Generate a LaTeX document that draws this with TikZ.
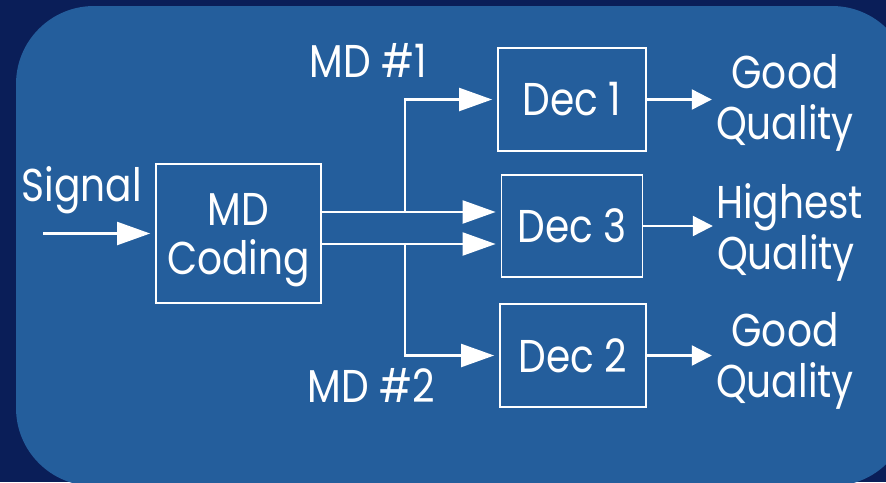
\documentclass[tikz,border=0pt]{standalone}
\usepackage{fontspec}
\setmainfont{Poppins}[FakeStretch=0.85]
\usetikzlibrary{arrows.meta, positioning}
\definecolor{navy}{HTML}{0A1E58}
\definecolor{panel}{HTML}{245E9C}

\begin{document}
\begin{tikzpicture}[x=1pt, y=-1pt,
        box/.style={draw=white, line width=1.8pt, text=white, align=center,
            inner sep=0pt, font=\fontsize{46}{49}\selectfont},
        lbl/.style={text=white, align=center, inner sep=0pt,
            font=\fontsize{46}{51}\selectfont},
        wire/.style={white, line width=2.2pt},
        bigarrow/.style={wire, -{Triangle[length=33pt, width=23pt]}, shorten >=5pt},
        smallarrow/.style={wire, -{Triangle[length=20pt, width=20pt]}, shorten >=3pt}]
    \useasboundingbox (0,0) rectangle (886,482);
    \fill[navy] (0,0) rectangle (886,482);
    \clip (0,0) rectangle (886,482);
    \fill[panel, rounded corners=78pt] (16,6) rectangle (910,486);

    % blocks
    \node[box, text depth=0pt, minimum width=165pt, minimum height=139pt] (coding) at (238.5,233.5) {MD\\Coding};
    \node[box, minimum width=148pt, minimum height=103pt] (dec1) at (572,99.5) {Dec 1};
    \node[box, minimum width=141pt, minimum height=102pt] (dec3) at (572,226) {Dec 3};
    \node[box, minimum width=146pt, minimum height=103pt] (dec2) at (573,355.5) {Dec 2};

    % labels
    \node[lbl] (signal) at (82,190) {Signal};
    \node[lbl] (md1) at (368,60) {MD \#1};
    \node[lbl] (md2) at (371,385) {MD \#2};
    \node[lbl, text width=140pt] (q1) at (785,103) {Good\\Quality};
    \node[lbl, text width=140pt] (q3) at (786,232) {Highest\\Quality};
    \node[lbl, text width=140pt] (q2) at (785,361) {Good\\Quality};

    % wires
    \coordinate (sig) at ([xshift=-112pt]coding.west);
    \coordinate (in1) at ([yshift=14pt]dec3.west);
    \coordinate (in2) at ([yshift=-18pt]dec3.west);
    \coordinate (split1) at (405,212);
    \coordinate (split2) at (405,244);
    \draw[bigarrow] (sig) -- (coding.west);
    \draw[bigarrow] (coding.east |- in1) -- (in1);
    \draw[bigarrow] (coding.east |- in2) -- (in2);
    \draw[bigarrow] (split1) |- (dec1.west);
    \draw[bigarrow] (split2) |- (dec2.west);
    \draw[smallarrow] (dec1.east) -- (dec1.east -| q1.west);
    \draw[smallarrow] (dec3.east) -- (dec3.east -| q3.west);
    \draw[smallarrow] (dec2.east) -- (dec2.east -| q2.west);
\end{tikzpicture}
\end{document}
